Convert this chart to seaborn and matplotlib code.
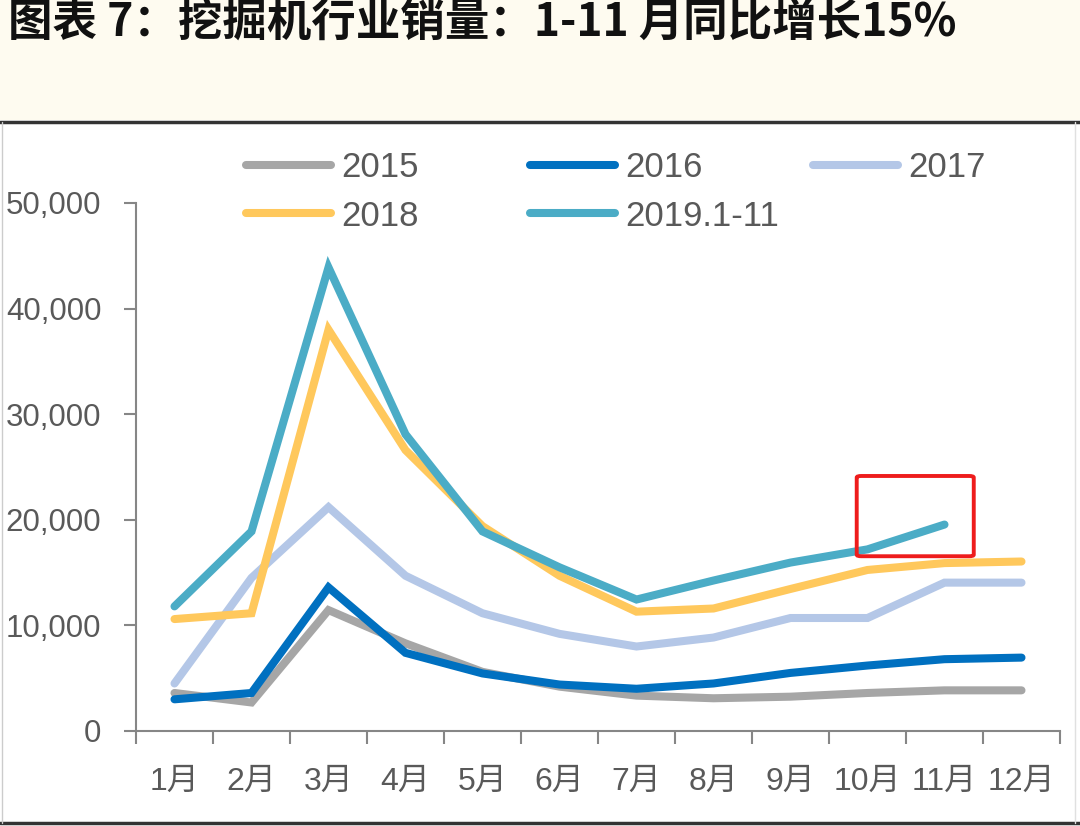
import numpy as np
import pandas as pd
import matplotlib
matplotlib.use("Agg")
import matplotlib.pyplot as plt
import seaborn as sns
from matplotlib.patches import FancyBboxPatch, Rectangle
from matplotlib.lines import Line2D

months = ["1月", "2月", "3月", "4月", "5月", "6月", "7月", "8月", "9月", "10月", "11月", "12月"]
s2015 = [3600, 2700, 11450, 8300, 5600, 4200, 3350, 3100, 3250, 3600, 3850, 3850]
s2016 = [3000, 3600, 13600, 7400, 5450, 4400, 4000, 4500, 5500, 6200, 6800, 6950]
s2017 = [4500, 14500, 21200, 14700, 11150, 9200, 8000, 8850, 10700, 10700, 14050, 14050]
s2018 = [10600, 11150, 38000, 26600, 19400, 14700, 11300, 11600, 13450, 15250, 15900, 16050]
s2019 = [11800, 18900, 43900, 28100, 18900, 15500, 12450, 14250, 15950, 17200, 19550, np.nan]
series_names = ["2015", "2016", "2017", "2018", "2019.1-11"]
colors = ["#A6A6A6", "#0070C0", "#B4C7E7", "#FFC85C", "#4BACC6"]

title = "图表 7：挖掘机行业销量：1-11 月同比增长15%"

rows = []
for name, vals in zip(series_names, [s2015, s2016, s2017, s2018, s2019]):
    for i, v in enumerate(vals):
        rows.append({"idx": i, "value": v, "series": name})
df = pd.DataFrame(rows).dropna()

sns.set_style("white")
plt.rcParams['font.family'] = ['Liberation Sans', 'Noto Sans CJK SC', 'DejaVu Sans']

fig = plt.figure(figsize=(10.8, 8.26), dpi=100)
fig.patch.set_facecolor("white")

# top cream band + separators
fig.add_artist(Rectangle((0, 1 - 120/826), 1, 120/826, transform=fig.transFigure,
                         facecolor="#FEFBF0", edgecolor="none", zorder=0))
fig.add_artist(Line2D([0, 1], [1 - 122/826, 1 - 122/826], transform=fig.transFigure,
                      color="#333333", lw=2.5))
fig.add_artist(Line2D([0, 1], [1 - 823/826, 1 - 823/826], transform=fig.transFigure,
                      color="#333333", lw=2.5))
fig.add_artist(Line2D([2/1080, 2/1080], [1 - 823/826, 1 - 122/826], transform=fig.transFigure,
                      color="#CCCCCC", lw=1))
fig.add_artist(Line2D([1075/1080, 1075/1080], [1 - 823/826, 1 - 122/826], transform=fig.transFigure,
                      color="#E0E0E0", lw=1))

fig.text(8/1080, 1 - 24/826, title, fontsize=32, fontweight="bold", color="#111111",
         va="center", ha="left", family=['Noto Sans CJK SC', 'DejaVu Sans'])

ax = fig.add_axes([136/1080, 95/826, (1060 - 136)/1080, (731 - 203)/826])
ax.set_facecolor("white")
sns.lineplot(data=df, x="idx", y="value", hue="series", hue_order=series_names,
             palette=colors, linewidth=5.8, ax=ax, legend=False, sort=False)
for ln in ax.get_lines():
    ln.set_solid_capstyle("round")
    ln.set_solid_joinstyle("miter")

ax.set_xlim(-0.5, 11.5)
ax.set_ylim(0, 50000)
ax.set_xlabel("")
ax.set_ylabel("")

ax.set_yticks(np.arange(0, 50001, 10000))
ax.set_yticklabels([f"{int(v):,}" for v in np.arange(0, 50001, 10000)])
ax.set_xticks(np.arange(-0.5, 12, 1))
ax.set_xticklabels([])
ax.set_xticks(np.arange(12), minor=True)
ax.set_xticklabels(months, minor=True, family=['Liberation Sans', 'Noto Sans CJK SC'])
ax.tick_params(axis="x", which="major", bottom=True, length=9, width=1.5, color="#868686",
               direction="out")
ax.tick_params(axis="x", which="minor", bottom=True, length=0, pad=26, labelsize=23,
               labelcolor="#595959")
ax.tick_params(axis="y", which="major", left=True, length=9, width=1.5, color="#868686",
               direction="out", labelsize=22.5, labelcolor="#595959", pad=16)

for s in ["top", "right"]:
    ax.spines[s].set_visible(False)
for s in ["left", "bottom"]:
    ax.spines[s].set_color("#868686")
    ax.spines[s].set_linewidth(1.5)

# highlight box around the latest 2019 value
hl_x = 10
hl_y = s2019[10]
box = FancyBboxPatch((hl_x - 1.14, hl_y - 3000), 1.52, 7600,
                     boxstyle="round,pad=0,rounding_size=0.06", mutation_aspect=2500,
                     fill=False, edgecolor="#EE1C1C", linewidth=2.8, zorder=5, clip_on=False)
ax.add_patch(box)

# legend: three columns of equal width
lines = ax.get_lines()[:5]
columns = [[0, 3], [1, 4], [2]]
col_x = [246, 530, 813]
for cx, idxs in zip(col_x, columns):
    leg = fig.legend([lines[i] for i in idxs], [series_names[i] for i in idxs],
                     loc="upper left", bbox_to_anchor=(cx/1080, 1 - 151/826),
                     frameon=False, fontsize=25, handlelength=2.45, handletextpad=0.28,
                     labelspacing=0.45, borderpad=0, borderaxespad=0)
    for t in leg.get_texts():
        t.set_color("#595959")
    for h in leg.legend_handles:
        h.set_solid_capstyle("round")

fig.savefig("out.png", dpi=100)
